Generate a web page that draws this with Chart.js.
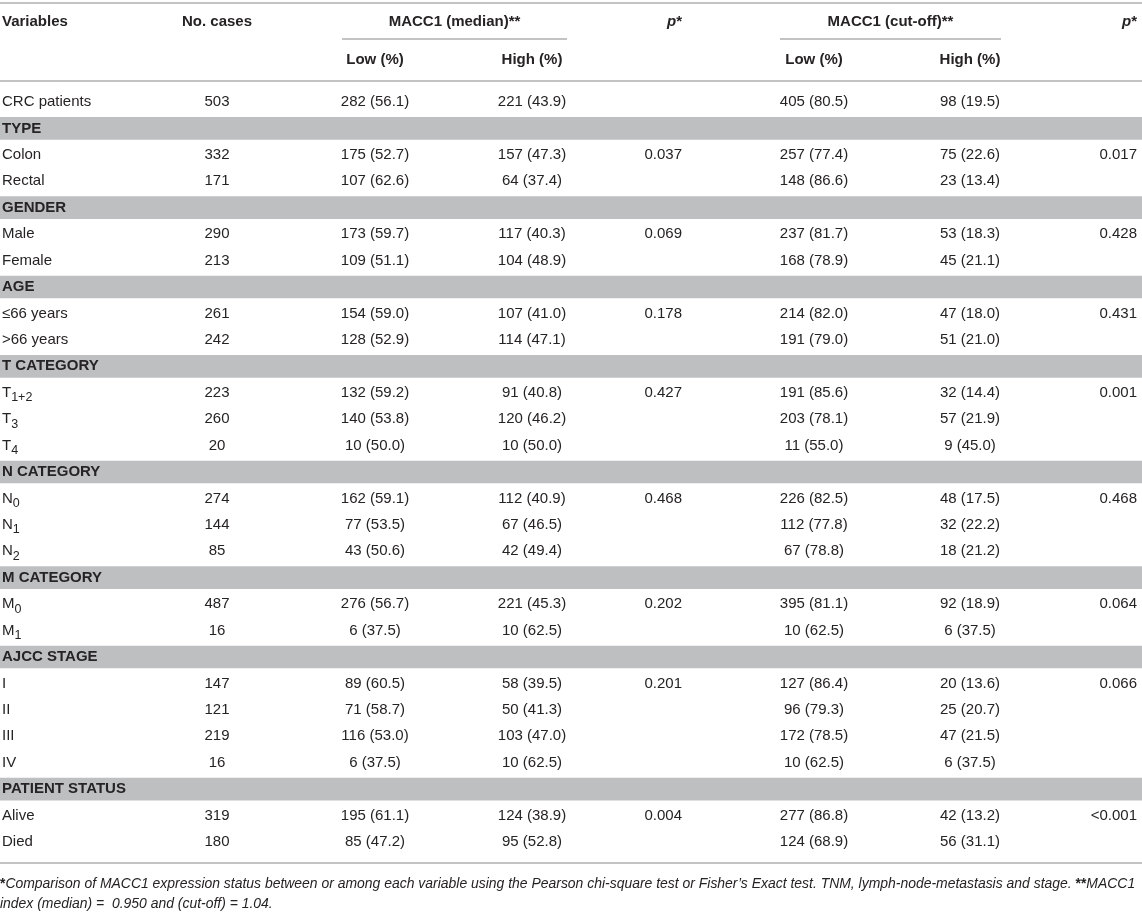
<!DOCTYPE html>
<html>
<head>
<meta charset="utf-8">
<script src="https://cdn.jsdelivr.net/npm/chart.js@4.4.1/dist/chart.umd.min.js"></script>
<style>
html,body{margin:0;padding:0;background:#ffffff;}
#wrap{width:1142px;height:918px;position:relative;overflow:hidden;}
canvas{display:block;}
</style>
</head>
<body>
<div id="wrap"><canvas id="c" width="1142" height="918"></canvas></div>
<script>
// ---------------- DATA ----------------
const variables = ['CRC patients','TYPE','Colon','Rectal','GENDER','Male','Female','AGE','≤66 years','>66 years',
  'T CATEGORY','T','T','T','N CATEGORY','N','N','N','M CATEGORY','M','M','AJCC STAGE','I','II','III','IV',
  'PATIENT STATUS','Alive','Died'];
const variableSubscripts = ['','','','','','','','','','',
  '','1+2','3','4','','0','1','2','','0','1','','','','','',
  '','',''];
const groupHeadings = ['TYPE','GENDER','AGE','T CATEGORY','N CATEGORY','M CATEGORY','AJCC STAGE','PATIENT STATUS'];
const cases = [503,null,332,171,null,290,213,null,261,242,null,223,260,20,null,274,144,85,null,487,16,null,147,121,219,16,null,319,180];
const medianLow = [282,null,175,107,null,173,109,null,154,128,null,132,140,10,null,162,77,43,null,276,6,null,89,71,116,6,null,195,85];
const medianLowPct = [56.1,null,52.7,62.6,null,59.7,51.1,null,59.0,52.9,null,59.2,53.8,50.0,null,59.1,53.5,50.6,null,56.7,37.5,null,60.5,58.7,53.0,37.5,null,61.1,47.2];
const medianHigh = [221,null,157,64,null,117,104,null,107,114,null,91,120,10,null,112,67,42,null,221,10,null,58,50,103,10,null,124,95];
const medianHighPct = [43.9,null,47.3,37.4,null,40.3,48.9,null,41.0,47.1,null,40.8,46.2,50.0,null,40.9,46.5,49.4,null,45.3,62.5,null,39.5,41.3,47.0,62.5,null,38.9,52.8];
const pMedian = ['','','0.037','','','0.069','','','0.178','','','0.427','','','','0.468','','','','0.202','','','0.201','','','','','0.004',''];
const cutoffLow = [405,null,257,148,null,237,168,null,214,191,null,191,203,11,null,226,112,67,null,395,10,null,127,96,172,10,null,277,124];
const cutoffLowPct = [80.5,null,77.4,86.6,null,81.7,78.9,null,82.0,79.0,null,85.6,78.1,55.0,null,82.5,77.8,78.8,null,81.1,62.5,null,86.4,79.3,78.5,62.5,null,86.8,68.9];
const cutoffHigh = [98,null,75,23,null,53,45,null,47,51,null,32,57,9,null,48,32,18,null,92,6,null,20,25,47,6,null,42,56];
const cutoffHighPct = [19.5,null,22.6,13.4,null,18.3,21.1,null,18.0,21.0,null,14.4,21.9,45.0,null,17.5,22.2,21.2,null,18.9,37.5,null,13.6,20.7,21.5,37.5,null,13.2,31.1];
const pCutoff = ['','','0.017','','','0.428','','','0.431','','','0.001','','','','0.468','','','','0.064','','','0.066','','','','','<0.001',''];
const headerTop = ['Variables','No. cases','MACC1 (median)**','p*','MACC1 (cut-off)**','p*'];
const headerSub = ['Low (%)','High (%)','Low (%)','High (%)'];
const footnoteMain = 'Comparison of MACC1 expression status between or among each variable using the Pearson chi-square test or Fisher\u2019s Exact test. TNM, lymph-node-metastasis and stage. ';
const footnoteTail = 'MACC1';
const footnoteLine2 = 'index (median) =  0.950 and (cut-off) = 1.04.';

// ---------------- LAYOUT / STYLE ----------------
const FONT = '"Liberation Sans", Arial, Helvetica, sans-serif';
const TEXT = '#262324';
const RULE = '#c3c3c3';
const BAND = '#bebfc1';
const col = { vars: 2, cases: 217, medLow: 375, medHigh: 532, pMed: 682, cutLow: 814, cutHigh: 970, pCut: 1137 };
const spanMed = [342, 567], spanCut = [780, 1001];
const yPos = { topRule: 3, head: 22, spanRule: 39, sub: 60, headRule: 81, bottomRule: 863, foot1: 884, foot2: 904 };

const rowLabels = variables.map((v, i) => v + variableSubscripts[i]);
const bandData = variables.map(v => groupHeadings.includes(v) ? [0, 1142] : null);

function fmt(n, p) { return n === null ? '' : n + ' (' + p.toFixed(1) + ')'; }

function drawRuns(ctx, runs, x, y, align) {
  let w = 0;
  runs.forEach(r => { ctx.font = r.font; r.w = ctx.measureText(r.t).width; w += r.w; });
  let sx = align === 'center' ? x - w / 2 : align === 'right' ? x - w : x;
  ctx.textAlign = 'left';
  runs.forEach(r => { ctx.font = r.font; ctx.fillText(r.t, sx, y + (r.dy || 0)); sx += r.w; });
}

const tablePlugin = {
  id: 'tableText',
  afterDatasetsDraw(chart) {
    const ctx = chart.ctx;
    const xs = chart.scales.x, ys = chart.scales.y;
    const X = v => xs.getPixelForValue(v);
    ctx.save();
    ctx.fillStyle = TEXT;
    ctx.textBaseline = 'middle';
    const reg = '15px ' + FONT, bold = 'bold 15px ' + FONT, sub = '12.5px ' + FONT;

    // rules
    ctx.strokeStyle = RULE; ctx.lineWidth = 2;
    const hline = (a, b, y) => { ctx.beginPath(); ctx.moveTo(X(a), y); ctx.lineTo(X(b), y); ctx.stroke(); };
    hline(0, 1142, yPos.topRule);
    hline(spanMed[0], spanMed[1], yPos.spanRule);
    hline(spanCut[0], spanCut[1], yPos.spanRule);
    hline(0, 1142, yPos.headRule);
    hline(0, 1142, yPos.bottomRule);

    // header
    drawRuns(ctx, [{t: headerTop[0], font: bold}], X(col.vars), yPos.head, 'left');
    drawRuns(ctx, [{t: headerTop[1], font: bold}], X(col.cases), yPos.head, 'center');
    drawRuns(ctx, [{t: headerTop[2], font: bold}], X((spanMed[0] + spanMed[1]) / 2), yPos.head, 'center');
    drawRuns(ctx, [{t: 'p', font: 'italic bold 15px ' + FONT}, {t: '*', font: bold}], X(col.pMed), yPos.head, 'right');
    drawRuns(ctx, [{t: headerTop[4], font: bold}], X((spanCut[0] + spanCut[1]) / 2), yPos.head, 'center');
    drawRuns(ctx, [{t: 'p', font: 'italic bold 15px ' + FONT}, {t: '*', font: bold}], X(col.pCut), yPos.head, 'right');
    drawRuns(ctx, [{t: headerSub[0], font: bold}], X(col.medLow), yPos.sub, 'center');
    drawRuns(ctx, [{t: headerSub[1], font: bold}], X(col.medHigh), yPos.sub, 'center');
    drawRuns(ctx, [{t: headerSub[2], font: bold}], X(col.cutLow), yPos.sub, 'center');
    drawRuns(ctx, [{t: headerSub[3], font: bold}], X(col.cutHigh), yPos.sub, 'center');

    // body
    variables.forEach((v, i) => {
      const y = ys.getPixelForValue(i);
      if (groupHeadings.includes(v)) {
        drawRuns(ctx, [{t: v, font: bold}], X(col.vars), y, 'left');
        return;
      }
      const runs = [{t: v, font: reg}];
      if (variableSubscripts[i]) runs.push({t: variableSubscripts[i], font: sub, dy: 5});
      drawRuns(ctx, runs, X(col.vars), y, 'left');
      if (cases[i] !== null) drawRuns(ctx, [{t: String(cases[i]), font: reg}], X(col.cases), y, 'center');
      drawRuns(ctx, [{t: fmt(medianLow[i], medianLowPct[i]), font: reg}], X(col.medLow), y, 'center');
      drawRuns(ctx, [{t: fmt(medianHigh[i], medianHighPct[i]), font: reg}], X(col.medHigh), y, 'center');
      if (pMedian[i]) drawRuns(ctx, [{t: pMedian[i], font: reg}], X(col.pMed), y, 'right');
      drawRuns(ctx, [{t: fmt(cutoffLow[i], cutoffLowPct[i]), font: reg}], X(col.cutLow), y, 'center');
      drawRuns(ctx, [{t: fmt(cutoffHigh[i], cutoffHighPct[i]), font: reg}], X(col.cutHigh), y, 'center');
      if (pCutoff[i]) drawRuns(ctx, [{t: pCutoff[i], font: reg}], X(col.pCut), y, 'right');
    });

    // footnotes (fit first line to table width)
    let fs = 13;
    ctx.font = 'italic ' + fs + 'px ' + FONT;
    let w = ctx.measureText(footnoteMain + footnoteTail).width;
    ctx.font = 'bold ' + fs + 'px ' + FONT;
    w += ctx.measureText('***').width;
    fs = Math.min(14, fs * 1136 / w);
    const it = 'italic ' + fs + 'px ' + FONT, bd = 'bold ' + fs + 'px ' + FONT;
    drawRuns(ctx, [{t: '*', font: bd}, {t: footnoteMain, font: it}, {t: '**', font: bd}, {t: footnoteTail, font: it}], X(0), yPos.foot1, 'left');
    drawRuns(ctx, [{t: footnoteLine2, font: it}], X(0), yPos.foot2, 'left');
    ctx.restore();
  }
};

new Chart(document.getElementById('c'), {
  type: 'bar',
  data: {
    labels: rowLabels,
    datasets: [{
      label: 'group bands',
      data: bandData,
      backgroundColor: BAND,
      borderWidth: 0,
      barPercentage: 0.86,
      categoryPercentage: 1
    }]
  },
  options: {
    indexAxis: 'y',
    responsive: false,
    animation: false,
    devicePixelRatio: 1,
    layout: { padding: { top: 88.8, bottom: 62.8, left: 0, right: 0 } },
    scales: {
      x: { type: 'linear', min: 0, max: 1142, display: false },
      y: { type: 'category', display: false, offset: true }
    },
    plugins: { legend: { display: false }, tooltip: { enabled: false } }
  },
  plugins: [tablePlugin]
});
</script>
</body>
</html>
